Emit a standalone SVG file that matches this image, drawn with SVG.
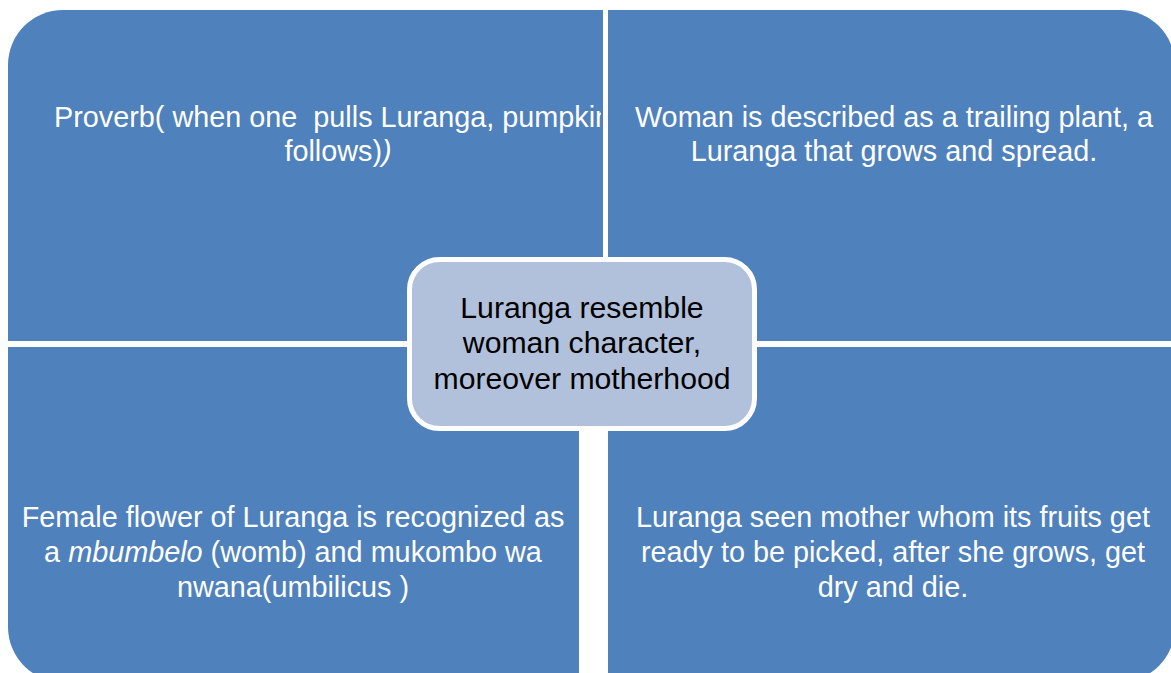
<svg xmlns="http://www.w3.org/2000/svg" width="1171" height="673" viewBox="0 0 1171 673">
  <style>
    .quad { fill: #4F81BD; }
    .qtext { font-family: "Liberation Sans", Arial, sans-serif; font-size: 28.8px; fill: #FFFFFF; }
    .ctext { font-family: "Liberation Sans", Arial, sans-serif; font-size: 30.2px; fill: #000000; text-anchor: middle; }
    .mid { text-anchor: middle; }
  </style>
  <defs>
    <clipPath id="clip-tl">
      <rect x="8" y="10" width="593" height="331"/>
    </clipPath>
  </defs>
  <rect width="1171" height="673" fill="#FFFFFF"/>

  <!-- top-left quadrant -->
  <g id="quad-top-left">
    <path class="quad" d="M8,341 V65 A55,55 0 0 1 63,10 H603 V341 Z"/>
    <g clip-path="url(#clip-tl)">
      <text class="qtext" x="54" y="127" xml:space="preserve">Proverb( when one  pulls Luranga, pumpkin</text>
      <text class="qtext mid" x="338" y="161">follows)<tspan font-style="italic">)</tspan></text>
    </g>
  </g>

  <!-- top-right quadrant -->
  <g id="quad-top-right">
    <path class="quad" d="M608,10 H1120 A55,55 0 0 1 1175,65 V341 H608 Z"/>
    <text class="qtext mid" x="894" y="127">Woman is described as a trailing plant, a</text>
    <text class="qtext mid" x="894" y="161">Luranga that grows and spread.</text>
  </g>

  <!-- bottom-left quadrant -->
  <g id="quad-bottom-left">
    <path class="quad" d="M8,347 H579 V682 H63 A55,55 0 0 1 8,627 Z"/>
    <text class="qtext mid" x="293" y="527">Female flower of Luranga is recognized as</text>
    <text class="qtext mid" x="293" y="562">a <tspan font-style="italic">mbumbelo</tspan> (womb) and mukombo wa</text>
    <text class="qtext mid" x="293" y="597">nwana(umbilicus )</text>
  </g>

  <!-- bottom-right quadrant -->
  <g id="quad-bottom-right">
    <path class="quad" d="M608,347 H1175 V627 A55,55 0 0 1 1120,682 H608 Z"/>
    <text class="qtext mid" x="893" y="527">Luranga seen mother whom its fruits get</text>
    <text class="qtext mid" x="893" y="562">ready to be picked, after she grows, get</text>
    <text class="qtext mid" x="893" y="597">dry and die.</text>
  </g>

  <!-- central node -->
  <g id="center-node">
    <rect x="409.5" y="259.5" width="345" height="169" rx="30" ry="30" fill="#B2C1DB" stroke="#FFFFFF" stroke-width="5"/>
    <text class="ctext" x="582" y="318">Luranga resemble</text>
    <text class="ctext" x="582" y="353">woman character,</text>
    <text class="ctext" x="582" y="389">moreover motherhood</text>
  </g>
</svg>
